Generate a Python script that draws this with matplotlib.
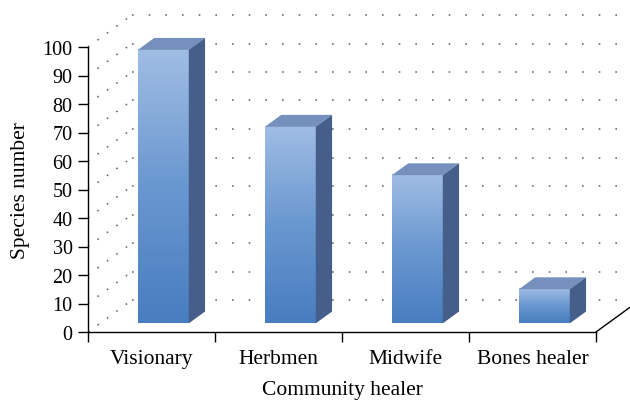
import matplotlib
matplotlib.use("Agg")
import matplotlib.pyplot as plt
import numpy as np
from matplotlib.colors import LinearSegmentedColormap
from matplotlib.patches import Polygon

# data
healers = ["Visionary", "Herbmen", "Midwife", "Bones healer"]
species = [96, 69, 52, 12]
yticks = list(range(0, 101, 10))

plt.rcParams['font.family'] = ['Liberation Serif', 'DejaVu Serif']

fig = plt.figure(figsize=(6.3, 4.02), dpi=100)
ax = fig.add_axes([88 / 630, (402 - 333) / 402, (596 - 88) / 630, (333 - 48) / 402])
n = len(healers)

# oblique depth vector in data units
DX = 44 / 127.0
DY = 32 / 2.85
f0, f1 = 0.27, 0.64   # bar front / back depth
bw = 0.4

# back wall & side wall dotted gridlines
for v in yticks:
    ax.plot([DX, n + DX + 0.2], [v + DY, v + DY], color="#707070",
            lw=1.2, ls=(0, (1, 9)), clip_on=False, zorder=1)
    ax.plot([0, DX], [v, v + DY], color="#707070",
            lw=1.2, ls=(0, (1, 6)), clip_on=False, zorder=1)

# floor right edge
ax.plot([n, n + DX * 1.2], [0, DY * 1.2], color="black", lw=1, clip_on=False, zorder=2)

cmap = LinearSegmentedColormap.from_list("bar", ["#487dc0", "#6a97d0", "#a0bde4"])
grad = np.linspace(0, 1, 256).reshape(-1, 1)

for i, v in enumerate(species):
    x0 = i + 0.5 - bw / 2 + f0 * DX
    x1 = x0 + bw
    y0 = f0 * DY
    y1 = v + f0 * DY
    ddx = (f1 - f0) * DX
    ddy = (f1 - f0) * DY
    # front face gradient
    ax.imshow(grad, extent=[x0, x1, y0, y1], origin="lower", cmap=cmap,
              aspect="auto", zorder=3, clip_on=False)
    # top face
    ax.add_patch(Polygon([[x0, y1], [x1, y1], [x1 + ddx, y1 + ddy], [x0 + ddx, y1 + ddy]],
                         closed=True, fc="#7590bc", ec="none", zorder=3, clip_on=False))
    # side face
    ax.add_patch(Polygon([[x1, y0], [x1 + ddx, y0 + ddy], [x1 + ddx, y1 + ddy], [x1, y1]],
                         closed=True, fc="#465e8a", ec="none", zorder=3, clip_on=False))

ax.set_xlim(0, n)
ax.set_ylim(0, 100)

for s in ["top", "right"]:
    ax.spines[s].set_visible(False)
for s in ["left", "bottom"]:
    ax.spines[s].set_color("black")
    ax.spines[s].set_linewidth(1)
    ax.spines[s].set_zorder(5)

ax.set_yticks(yticks)
ax.tick_params(axis="y", direction="out", length=7, width=1, labelsize=14.5, pad=4)
ax.set_xticks(range(n + 1))
ax.set_xticklabels([])
ax.tick_params(axis="x", which="major", direction="out", length=7, width=1)
ax.set_xticks([i + 0.5 for i in range(n)], minor=True)
ax.set_xticklabels(healers, minor=True)
ax.tick_params(axis="x", which="minor", length=0, labelsize=15.5, pad=12)

ax.set_xlabel("Community healer", fontsize=15.5, labelpad=9)
ax.set_ylabel("Species number", fontsize=15.5, labelpad=9)
ax.patch.set_visible(False)

fig.savefig("out.png", dpi=100)
